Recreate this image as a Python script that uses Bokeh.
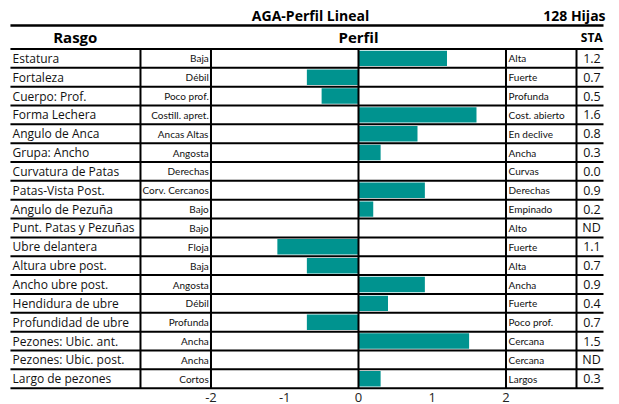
from bokeh.plotting import figure
from bokeh.models import Range1d, FixedTicker, PrintfTickFormatter
from bokeh.core.properties import value
from bokeh.embed import file_html
from bokeh.resources import INLINE

title = "AGA-Perfil Lineal"
subtitle = "128 Hijas"
header_trait = "Rasgo"
header_profile = "Perfil"
header_sta = "STA"

traits = ["Estatura", "Fortaleza", "Cuerpo: Prof.", "Forma Lechera", "Angulo de Anca",
          "Grupa: Ancho", "Curvatura de Patas", "Patas-Vista Post.", "Angulo de Pezuña",
          "Punt. Patas y Pezuñas", "Ubre delantera", "Altura ubre post.", "Ancho ubre post.",
          "Hendidura de ubre", "Profundidad de ubre", "Pezones: Ubic. ant.",
          "Pezones: Ubic. post.", "Largo de pezones"]
low_labels = ["Baja", "Débil", "Poco prof.", "Costill. apret.", "Ancas Altas", "Angosta",
              "Derechas", "Corv. Cercanos", "Bajo", "Bajo", "Floja", "Baja", "Angosta",
              "Débil", "Profunda", "Ancha", "Ancha", "Cortos"]
high_labels = ["Alta", "Fuerte", "Profunda", "Cost. abierto", "En declive", "Ancha",
               "Curvas", "Derechas", "Empinado", "Alto", "Fuerte", "Alta", "Ancha",
               "Fuerte", "Poco prof.", "Cercana", "Cercana", "Largos"]
values = [1.2, -0.7, -0.5, 1.6, 0.8, 0.3, 0.0, 0.9, 0.2, None, -1.1, -0.7, 0.9, 0.4,
          -0.7, 1.5, None, 0.3]
ticks = [-2, -1, 0, 1, 2]

sta_labels = ["ND" if v is None else f"{abs(v):.1f}" for v in values]
rows = list(range(len(traits)))
n = len(traits)

TEAL = "#00938f"

p = figure(width=619, height=404, output_backend="svg", toolbar_location=None,
           x_range=Range1d(-4.854, 3.539), y_range=Range1d(n - 0.5 + 0.23, -3.07),
           y_axis_location=None, min_border=0, min_border_left=0, min_border_right=0,
           min_border_top=0, min_border_bottom=0)
p.outline_line_color = None
p.xgrid.visible = False
p.ygrid.visible = False
p.background_fill_color = "white"
p.border_fill_color = "white"

ax = p.xaxis[0]
ax.ticker = FixedTicker(ticks=ticks)
ax.formatter = PrintfTickFormatter(format="%d")
ax.axis_line_color = None
ax.major_tick_line_color = None
ax.minor_tick_line_color = None
ax.major_tick_out = 0
ax.major_tick_in = 0
ax.major_label_standoff = 0
ax.major_label_text_font = "Open Sans"
ax.major_label_text_font_size = "13px"
ax.major_label_text_color = "#222222"

# bars
bar_rows = [r for r, v in zip(rows, values) if v is not None]
bar_vals = [v for v in values if v is not None]
p.hbar(y=bar_rows, left=0, right=bar_vals, height=0.82, fill_color=TEAL, line_color=None)

# table lines
x_left, x_right = -4.719, 3.322
hy = [r - 0.5 for r in range(n + 1)]
p.segment(x0=[x_left] * len(hy), x1=[x_right] * len(hy), y0=hy, y1=hy,
          line_color="black", line_width=2)
p.segment(x0=[x_left], x1=[x_right], y0=[-1.74], y1=[-1.74], line_color="black", line_width=2.5)
vx = [-2.956, -2.0, 0.0, 2.0, 2.956]
p.segment(x0=vx, x1=vx, y0=[-0.5] * len(vx), y1=[n - 0.5] * len(vx),
          line_color="black", line_width=2)

# texts
p.text(x=[-4.69] * n, y=rows, text=traits, text_align="left", text_baseline="middle",
       text_font=value("Open Sans"), text_font_size="12px", text_color="#111111")
p.text(x=[-2.03] * n, y=rows, text=low_labels, text_align="right", text_baseline="middle",
       text_font=value("Lato"), text_font_size="10px", text_color="#111111")
p.text(x=[2.035] * n, y=rows, text=high_labels, text_align="left", text_baseline="middle",
       text_font=value("Lato"), text_font_size="10px", text_color="#111111")
p.text(x=[3.285] * n, y=rows, text=sta_labels, text_align="right", text_baseline="middle",
       text_font=value("Open Sans"), text_font_size="12.5px", text_color="#111111")

p.text(x=[-3.84], y=[-1.12], text=[header_trait], text_align="center", text_baseline="middle",
       text_font=value("Open Sans"), text_font_style="bold", text_font_size="15px")
p.text(x=[0.0], y=[-1.12], text=[header_profile], text_align="center", text_baseline="middle",
       text_font=value("Open Sans"), text_font_style="bold", text_font_size="15px")
p.text(x=[3.31], y=[-1.12], text=[header_sta], text_align="right", text_baseline="middle",
       text_font=value("Open Sans"), text_font_style="bold", text_font_size="12px")
p.text(x=[-0.65], y=[-2.3], text=[title], text_align="center", text_baseline="middle",
       text_font=value("Open Sans"), text_font_style="bold", text_font_size="14px")
p.text(x=[3.35], y=[-2.3], text=[subtitle], text_align="right", text_baseline="middle",
       text_font=value("Open Sans"), text_font_style="bold", text_font_size="14px")

open("out.html", "w").write(file_html(p, INLINE))
